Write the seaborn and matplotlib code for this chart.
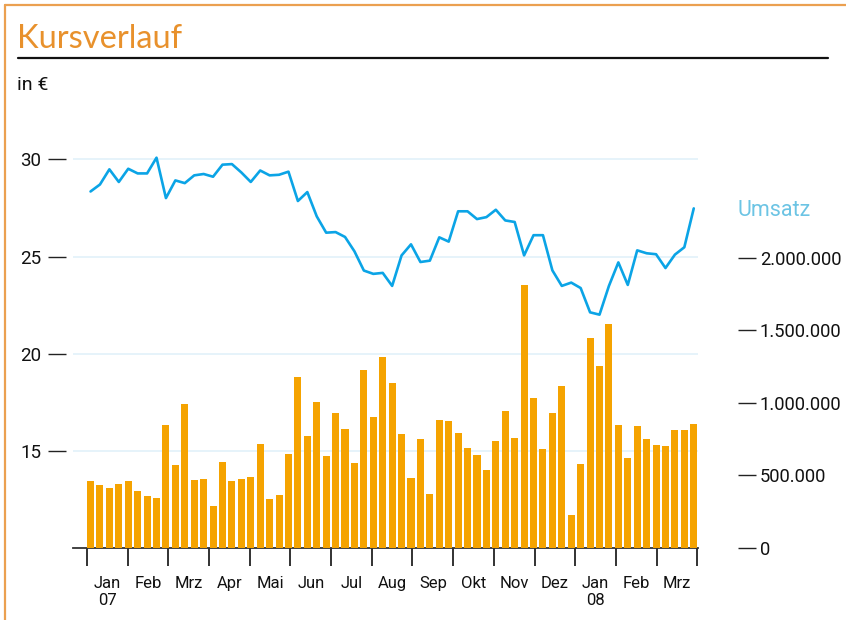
import numpy as np
import pandas as pd
import matplotlib.pyplot as plt
from matplotlib.lines import Line2D
import seaborn as sns

# Wochenwerte Jan 2007 - Mrz 2008
kurs = [28.35, 28.71, 29.49, 28.84, 29.52, 29.28, 29.28, 30.09, 28.01, 28.92,
        28.78, 29.18, 29.25, 29.11, 29.73, 29.76, 29.33, 28.84, 29.43, 29.18,
        29.21, 29.37, 27.86, 28.32, 27.07, 26.23, 26.26, 26.01, 25.27, 24.28,
        24.11, 24.16, 23.49, 25.06, 25.63, 24.72, 24.79, 25.99, 25.77, 27.33,
        27.33, 26.93, 27.03, 27.41, 26.86, 26.78, 25.06, 26.10, 26.10, 24.29,
        23.49, 23.66, 23.38, 22.13, 22.01, 23.49, 24.70, 23.54, 25.32, 25.17,
        25.12, 24.41, 25.10, 25.48, 27.48]
umsatz = [460000, 433000, 412000, 440000, 460000, 392000, 357000, 344000, 845000, 570000,
          990000, 467000, 474000, 289000, 591000, 460000, 474000, 488000, 715000, 337000,
          364000, 646000, 1175000, 770000, 1003000, 632000, 928000, 818000, 584000, 1223000,
          900000, 1313000, 1134000, 784000, 481000, 749000, 371000, 880000, 873000, 790000,
          687000, 639000, 536000, 735000, 942000, 756000, 1808000, 1031000, 680000, 928000,
          1113000, 227000, 577000, 1443000, 1251000, 1546000, 845000, 619000, 838000, 749000,
          708000, 701000, 811000, 811000, 852000]
monate = ['Jan\n07', 'Feb', 'Mrz', 'Apr', 'Mai', 'Jun', 'Jul', 'Aug', 'Sep', 'Okt',
          'Nov', 'Dez', 'Jan\n08', 'Feb', 'Mrz']
kurs_ticks = [15, 20, 25, 30]
umsatz_ticks = [0, 500000, 1000000, 1500000, 2000000]
umsatz_labels = ['0', '500.000', '1.000.000', '1.500.000', '2.000.000']

df = pd.DataFrame({'woche': np.arange(len(kurs)), 'kurs': kurs, 'umsatz': umsatz})

sns.set_style('white')
plt.rcParams['font.family'] = ['Roboto', 'DejaVu Sans']

ORANGE = '#F5A300'
BLUE = '#0BA4E6'
W, H = 846, 620

fig = plt.figure(figsize=(8.46, 6.2), dpi=100)
ax = fig.add_axes([73 / W, 72 / H, 625 / W, 408 / H])
ax2 = ax.twinx()

# Umsatz als Balken (rechte Achse)
sns.barplot(data=df, x='woche', y='umsatz', ax=ax2, color=ORANGE, saturation=1,
            width=0.75, order=df['woche'], edgecolor='none', linewidth=0)
# Kurs als Linie (linke Achse)
sns.lineplot(data=df, x='woche', y='kurs', ax=ax, color=BLUE, linewidth=1.9)

ax.set_ylim(10, 31)
ax2.set_ylim(0, 2810000)
ax.set_xlim(-1.86, 64.45)

# Gitterlinien
for v in kurs_ticks:
    ax.axhline(v, color='#E2F1F9', linewidth=1.2, zorder=0)

ax.set_yticks(kurs_ticks)
ax.set_yticklabels([str(v) for v in kurs_ticks])
ax2.set_yticks(umsatz_ticks)
ax2.set_yticklabels(umsatz_labels)

# Monatsgrenzen + Beschriftung in der Mitte
grenzen = np.linspace(-0.375, 64.375, 16)
ax.set_xticks(grenzen)
ax.set_xticklabels([])
ax.set_xticks((grenzen[:-1] + grenzen[1:]) / 2, minor=True)
ax.set_xticklabels(monate, minor=True)
ax.tick_params(axis='x', which='major', bottom=True, length=13, width=1.3,
               color='#222222', direction='out')
ax.tick_params(axis='x', which='minor', bottom=True, length=0, pad=20,
               labelsize=12, labelcolor='#111111')
ax.set_xlabel('')
ax.set_ylabel('')
ax2.set_ylabel('')

for s in ['top', 'right']:
    ax.spines[s].set_visible(False)
ax.spines['left'].set_position(('outward', 5))
ax.spines['left'].set_visible(False)
ax.spines['bottom'].set_color('#333333')
ax.spines['bottom'].set_linewidth(1.3)
ax.tick_params(axis='y', length=13, width=1.0, color='#222222', pad=5,
               labelsize=13.5, labelcolor='#111111', left=True)

for s in ['top', 'left', 'bottom']:
    ax2.spines[s].set_visible(False)
ax2.spines['right'].set_position(('outward', 29))
ax2.spines['right'].set_visible(False)
ax2.tick_params(axis='y', length=13, width=1.0, color='#222222', pad=2.5,
                labelsize=13.2, labelcolor='#111111', right=True)

# Texte
fig.text(17 / W, 1 - 48 / H, 'Kursverlauf', color='#E8912C', fontsize=23.5,
         family=['Lato', 'DejaVu Sans'], va='baseline')
fig.text(17 / W, 1 - 90 / H, 'in €', color='#111111', fontsize=14, va='baseline')
fig.text(737 / W, 1 - 216 / H, 'Umsatz', color='#6CC4E4', fontsize=15.5, va='baseline')

# Linie unter dem Titel und Rahmen
fig.add_artist(Line2D([18 / W, 828 / W], [1 - 58 / H, 1 - 58 / H], color='#111111', linewidth=1.6))
fig.add_artist(Line2D([4.5 / W, 1], [1 - 5 / H, 1 - 5 / H], color='#EBA050', linewidth=1.6))
fig.add_artist(Line2D([4.5 / W, 4.5 / W], [0, 1 - 5 / H], color='#EBA050', linewidth=1.6))

fig.savefig('out.png', dpi=100)
